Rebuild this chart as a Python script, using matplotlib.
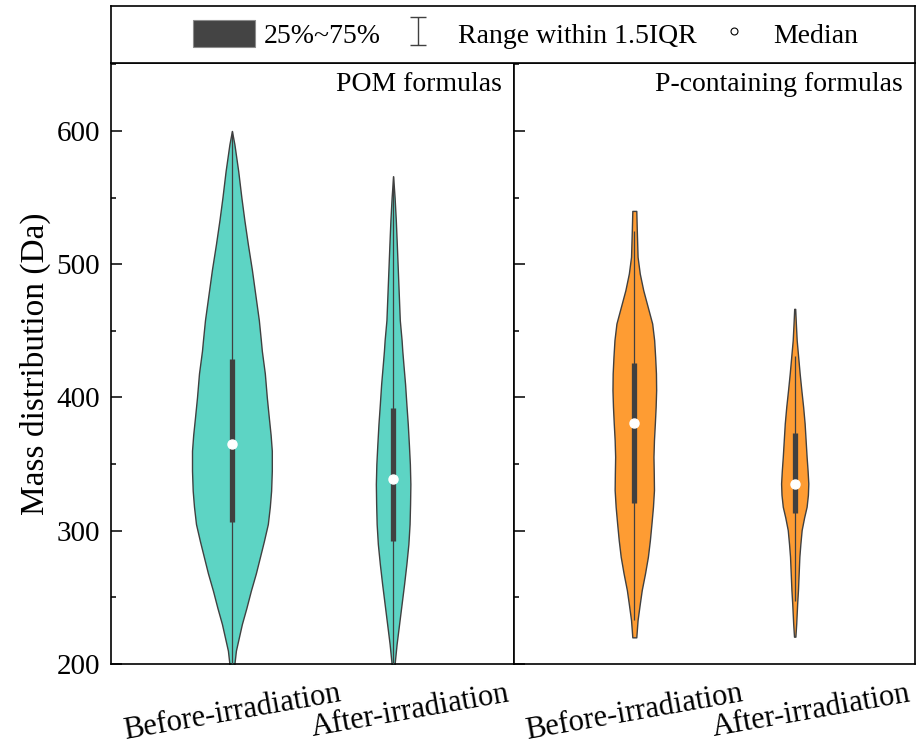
import numpy as np
import matplotlib
matplotlib.use('Agg')
import matplotlib.pyplot as plt
from matplotlib.patches import Patch
from matplotlib.lines import Line2D
from matplotlib.path import Path
from matplotlib.transforms import ScaledTranslation

plt.rcParams['font.family'] = ['Liberation Serif', 'DejaVu Serif']

# categories
groups = ['Before-irradiation', 'After-irradiation']
panels = ['POM formulas', 'P-containing formulas']
colors = ['#5dd4c4', '#fe9c33']

# violin outlines: mass (Da) and half width (px)
pom_before_y = [195, 200, 210, 220, 230, 242, 255, 268, 280, 292, 305, 318, 330, 345, 360,
                372, 385, 400, 418, 435, 443, 458, 477, 496, 515, 533, 550, 570, 590, 600]
pom_before_w = [1.5, 2.5, 4, 7, 10, 14.5, 19, 24, 28, 32, 36, 38, 39.3, 40, 40,
                38.8, 37, 35, 33, 30, 29, 27, 23.5, 20, 16, 12.5, 9.5, 6.3, 2.5, 0]
pom_after_y = [195, 200, 215, 230, 245, 260, 275, 290, 305, 320, 335, 350, 365, 380, 395,
               410, 425, 435, 443, 458, 477, 496, 515, 533, 550, 566]
pom_after_w = [1, 1.5, 3.5, 6, 8.5, 11, 13.3, 15.3, 16.5, 17, 17.3, 16.8, 15.8, 14.7, 13.3,
               12, 10.3, 9.2, 8.5, 6.7, 5.7, 4.7, 3.7, 2.7, 1.5, 0]
p_before_y = [220, 233, 245, 255.5, 268, 280.5, 293, 305.5, 318, 330.5, 343, 355.5, 368, 380.5,
              393, 405.5, 418, 430.5, 443, 455.5, 468, 480.5, 493, 505.5, 525.5, 540]
p_before_w = [2, 3.3, 5.5, 7.5, 10.8, 13.7, 15.7, 17.3, 18.8, 19.8, 19.6, 19.3, 19.8, 20.7,
              21.5, 22, 21.8, 21, 20, 18, 13.5, 9, 5.5, 3.3, 2.5, 2]
p_after_y = [220.5, 230, 245.5, 255.5, 268, 280.5, 290, 300.5, 310, 318, 327, 335.5, 345, 355.5,
             368, 380.5, 393, 405.5, 418, 430.5, 443, 455, 466.5]
p_after_w = [0.7, 1.5, 2.5, 3.3, 4, 4.7, 5.7, 7, 9.5, 12, 13.3, 13.7, 13, 12,
             11, 10, 8.5, 6.7, 5, 3.5, 2, 1.2, 0.5]

# box stats
pom_q1 = [306.7, 292]
pom_med = [365, 339]
pom_q3 = [429, 392]
pom_lo = [195, 195]
pom_hi = [600, 566]
p_q1 = [320.5, 313]
p_med = [381, 335]
p_q3 = [425.5, 373]
p_lo = [233, 247]
p_hi = [525, 431]

outlines = [[(pom_before_y, pom_before_w), (pom_after_y, pom_after_w)],
            [(p_before_y, p_before_w), (p_after_y, p_after_w)]]
stats = [(pom_q1, pom_med, pom_q3, pom_lo, pom_hi),
         (p_q1, p_med, p_q3, p_lo, p_hi)]

px_per_unit = 161.6
dark = '#404040'

fig = plt.figure(figsize=(9.22, 7.49), dpi=100)
ax1 = fig.add_axes([0.1204, 0.1135, 0.4371, 0.8024])
ax2 = fig.add_axes([0.5575, 0.1135, 0.4349, 0.8024], sharey=ax1)
lax = fig.add_axes([0.1204, 0.9159, 0.8720, 0.0761])

pos = [1, 2]
for k, ax in enumerate([ax1, ax2]):
    q1, med, q3, lo, hi = stats[k]
    for i, (yy, ww) in enumerate(outlines[k]):
        yy = np.array(yy)
        ww = np.array(ww) / px_per_unit
        ax.fill_betweenx(yy, pos[i] - ww, pos[i] + ww, facecolor=colors[k],
                         edgecolor=dark, lw=1.0, zorder=2)
    ax.vlines(pos, lo, hi, color=dark, lw=0.9, zorder=3)
    ax.vlines(pos, q1, q3, color=dark, lw=3.8, zorder=4)
    ax.plot(pos, med, 'o', ms=6.5, mfc='white', mec='white', zorder=5)
    ax.set_xlim(0.25, 2.75)
    ax.set_xticks(pos)
    ax.set_xticklabels(groups, rotation=10, ha='center', fontsize=22)
    ax.tick_params(axis='x', length=0, pad=11)
    ax.tick_params(axis='y', which='major', direction='in', length=8, width=1.1, labelsize=21, pad=8)
    ax.tick_params(axis='y', which='minor', direction='in', length=3.5, width=1.1)
    for s in ax.spines.values():
        s.set_linewidth(1.2)
    ax.text(0.97, 0.985, panels[k], transform=ax.transAxes, ha='right', va='top', fontsize=20)
    offs = ScaledTranslation(0.17, 0, fig.dpi_scale_trans)
    lbl = ax.get_xticklabels()[1]
    lbl.set_transform(lbl.get_transform() + offs)

ax1.set_ylim(200, 651)
ax1.set_yticks([200, 300, 400, 500, 600])
ax1.set_yticks([250, 350, 450, 550, 650], minor=True)
ax1.set_ylabel('Mass distribution (Da)', fontsize=24, labelpad=4)
ax2.tick_params(axis='y', labelleft=False)

# legend box
lax.set_xticks([])
lax.set_yticks([])
for s in lax.spines.values():
    s.set_linewidth(1.2)
ibar = Path([(-0.6, -1), (0.6, -1), (0, -1), (0, 1), (-0.6, 1), (0.6, 1)],
            [Path.MOVETO, Path.LINETO, Path.MOVETO, Path.LINETO, Path.MOVETO, Path.LINETO])
handles = [Patch(facecolor='#444444', edgecolor='#8c8c8c', lw=0.8, label='25%~75%'),
           Line2D([], [], ls='none', marker=ibar, ms=20, mec=dark, mew=1.0,
                  label='Range within 1.5IQR'),
           Line2D([], [], ls='none', marker='o', ms=5, mfc='white', mec='black', mew=0.8,
                  label='Median')]
lax.legend(handles=handles, ncol=3, loc='center left', bbox_to_anchor=(0.102, 0.5),
           frameon=False, fontsize=20, handlelength=2.23, handleheight=1.15,
           handletextpad=0.3, columnspacing=0.25, borderpad=0, borderaxespad=0)

fig.savefig('out.png', dpi=100)
